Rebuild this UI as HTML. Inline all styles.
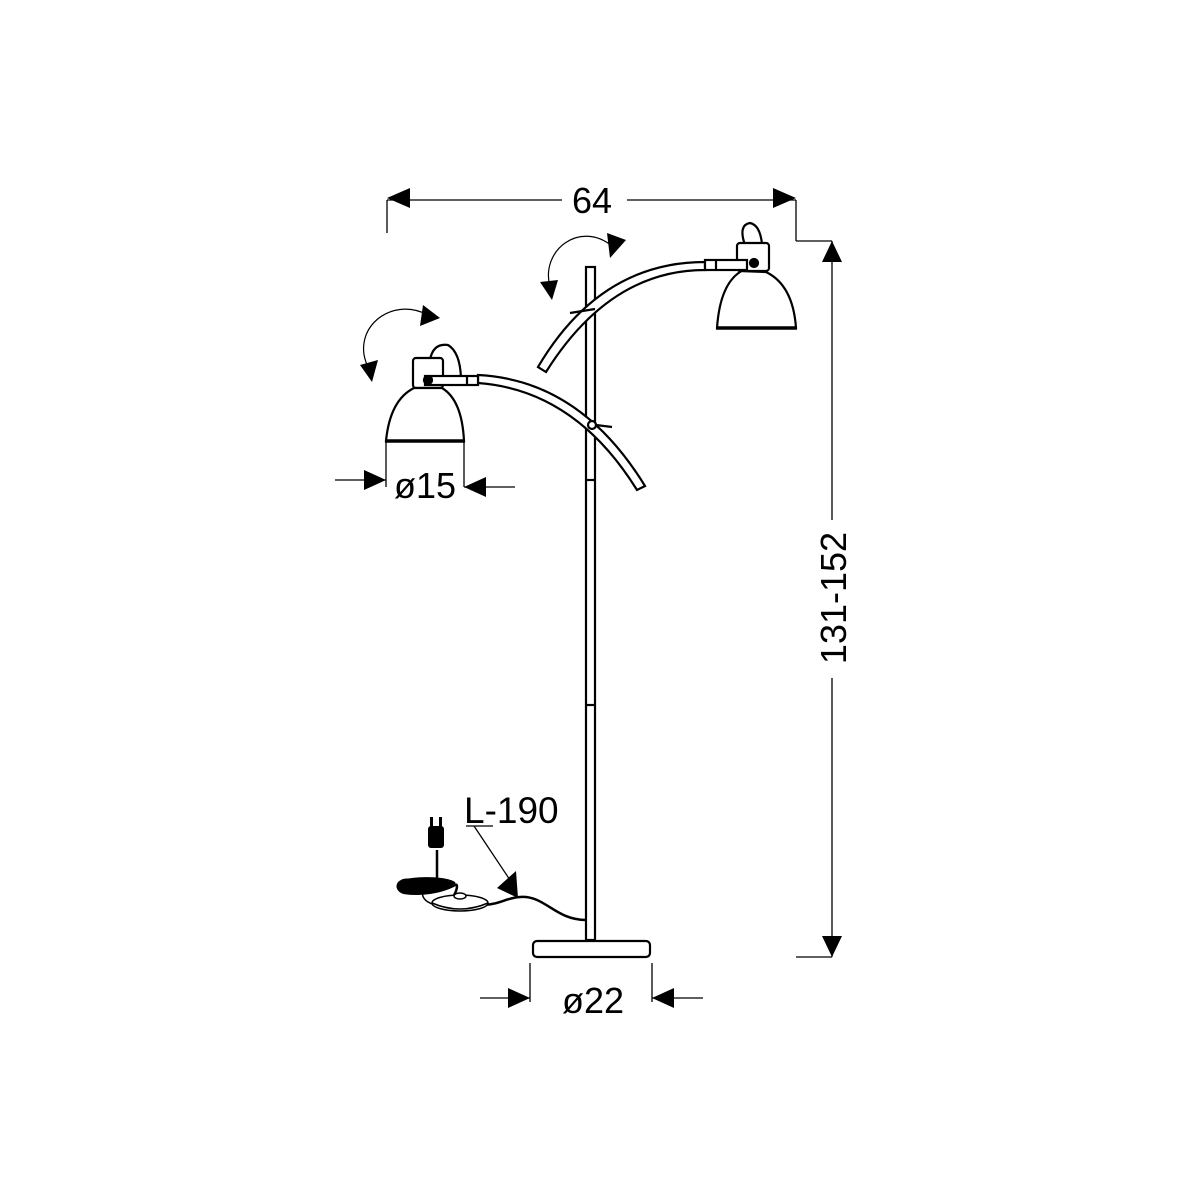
<!DOCTYPE html>
<html><head><meta charset="utf-8"><style>html,body{margin:0;padding:0;background:#fff}svg{display:block}</style></head>
<body>
<svg width="1200" height="1200" viewBox="0 0 1200 1200" xmlns="http://www.w3.org/2000/svg" font-family="Liberation Sans, sans-serif">
<rect width="1200" height="1200" fill="#fff"/>
<g stroke="#000" fill="none" stroke-width="1.3">
<line x1="387" y1="200" x2="562" y2="200"/><line x1="627" y1="200" x2="796" y2="200"/>
<line x1="387" y1="200" x2="387" y2="233"/><line x1="796" y1="200" x2="796" y2="241"/>
<line x1="796" y1="241" x2="832" y2="241"/>
<line x1="832" y1="241" x2="832" y2="520"/><line x1="832" y1="678" x2="832" y2="957"/>
<line x1="796" y1="957" x2="832" y2="957"/>
<line x1="386" y1="442" x2="386" y2="487"/><line x1="464" y1="442" x2="464" y2="487"/>
<line x1="335" y1="480" x2="386" y2="480"/><line x1="464" y1="487" x2="515" y2="487"/>
<line x1="530" y1="963" x2="530" y2="1002"/><line x1="652" y1="963" x2="652" y2="1002"/>
<line x1="480" y1="998" x2="530" y2="998"/><line x1="652" y1="998" x2="703" y2="998"/>
<line x1="466" y1="826" x2="493" y2="826"/><line x1="474" y1="826" x2="510" y2="880"/>
</g>
<g fill="#000">
<polygon points="387,198 410,188 410,208"/>
<polygon points="796,198 773,188 773,208"/>
<polygon points="832,241 822,262 842,262"/>
<polygon points="832,957 822,936 842,936"/>
<polygon points="386,480 364,470 364,490"/>
<polygon points="464,487 486,477 486,497"/>
<polygon points="530,998 508,988 508,1008"/>
<polygon points="652,998 674,988 674,1008"/>
<polygon points="518,898 497,888 516,871"/>
</g>
<g font-size="36" fill="#000">
<text x="592" y="213" text-anchor="middle">64</text>
<text x="425" y="498" text-anchor="middle">ø15</text>
<text x="593" y="1013" text-anchor="middle">ø22</text>
<text x="464" y="823" font-size="37">L-190</text>
<text transform="translate(846,598) rotate(-90)" text-anchor="middle">131-152</text>
</g>
<g stroke="#000" fill="none" stroke-width="1.2">
<path d="M550,287 C540,250 580,220 612,246"/>
<path d="M368,367 C350,330 390,295 428,315"/>
</g>
<g fill="#000">
<polygon points="607,233 626,240 610,258"/>
<polygon points="540,282 558,280 552,300"/>
<polygon points="423,305 440,318 420,326"/>
<polygon points="360,365 378,360 372,382"/>
</g>
<g stroke="#000" stroke-width="2.2" fill="#fff">
<rect x="586" y="267" width="9" height="673"/>
<line x1="586" y1="480" x2="595" y2="480"/><line x1="586" y1="705" x2="595" y2="705"/>
<rect x="533" y="941" width="117" height="16" rx="4"/>
<path d="M538,367 Q600,262 705,262 L705,270 Q610,270 546,372 Z"/>
<line x1="570" y1="313" x2="595" y2="309"/>
<path d="M478,375 Q580,380 645,486 L637,490 Q575,390 478,383 Z"/>
<circle cx="592" cy="425" r="4"/><line x1="596" y1="425" x2="612" y2="427"/>
<path d="M745,245 Q738,225 750,223 Q760,225 762,244" fill="none"/>
<rect x="737" y="243" width="32" height="28" rx="3"/>
<path d="M740,271 L740,272 Q720,285 717,328 L796,328 Q793,285 766,272 Z"/>
<line x1="716" y1="328" x2="797" y2="328" stroke-width="3.5"/>
<rect x="705" y="260" width="42" height="10"/>
<line x1="716" y1="260" x2="716" y2="270"/>
<circle cx="754" cy="263" r="4" fill="#000"/>
<path d="M430,360 Q433,343 448,345 Q460,352 461,378" fill="none"/>
<rect x="413" y="358" width="30" height="30" rx="3"/>
<path d="M414,388 Q390,400 386,441 L464,441 Q462,400 442,388 Z"/>
<line x1="385" y1="441" x2="465" y2="441" stroke-width="3.5"/>
<rect x="425" y="376" width="53" height="9"/>
<line x1="467" y1="376" x2="467" y2="385"/>
<circle cx="428" cy="380" r="4" fill="#000"/>
</g>
<g stroke="#000" fill="none" stroke-width="2.5">
<path d="M586,920 C555,920 545,895 520,897 C505,898 500,905 480,905"/>
<path d="M437,850 L437,875 C438,885 425,888 410,880 C395,878 395,892 405,893 C420,895 440,893 455,885 C460,882 455,900 445,905 C440,908 435,905 440,903"/>
<path d="M423,890 C420,900 430,905 445,907" stroke-width="1.5"/>
</g>
<path d="M398,882 C405,876 445,875 455,882 C458,888 440,894 410,894 C398,894 394,888 398,882 Z" fill="#000"/>
<g stroke="#000" stroke-width="1.5">
<ellipse cx="460" cy="903" rx="28" ry="8" fill="#fff"/>
<path d="M432,903 Q460,915 488,903" fill="none"/>
<ellipse cx="460" cy="896" rx="6" ry="3" fill="#fff"/>
</g>
<rect x="428" y="826" width="16" height="22" rx="3" fill="#000"/>
<rect x="430" y="817" width="3" height="10" fill="#000"/><rect x="439" y="817" width="3" height="10" fill="#000"/>
</svg>
</body></html>
